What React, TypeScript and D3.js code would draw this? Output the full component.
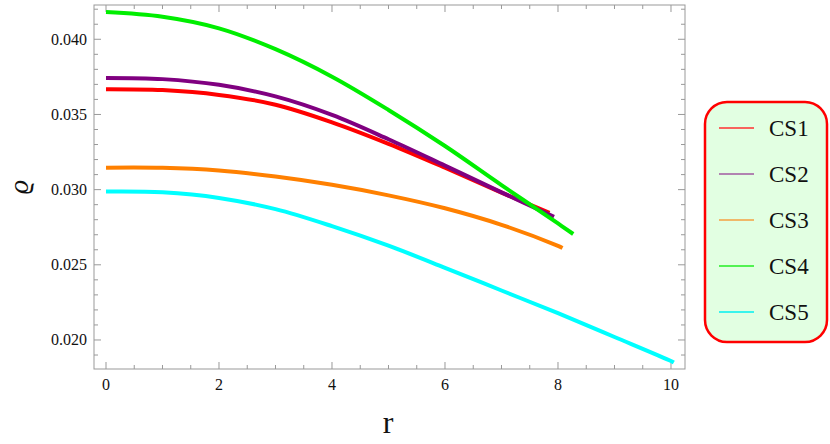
import React from "react";
import * as d3 from "d3";

const seriesNames = ["CS1", "CS2", "CS3", "CS4", "CS5"];
const seriesColors = ["#ff0000", "#800080", "#ff8000", "#00ee00", "#00ffff"];
const legendColors = ["#ff3030", "#a05aa0", "#f5a040", "#22ee22", "#00f0f0"];

const cs1R = [0, 1, 2, 3, 4, 5, 6, 7, 7.85];
const cs1V = [0.03668, 0.03662, 0.0363, 0.03565, 0.03448, 0.03305, 0.03146, 0.0298, 0.02845];

const cs2R = [0, 1, 2, 3, 4, 5, 6, 7, 7.93];
const cs2V = [0.03743, 0.03735, 0.03697, 0.0362, 0.03497, 0.03335, 0.0316, 0.02982, 0.0282];

const cs3R = [0, 1, 2, 3, 4, 5, 6, 7, 8, 8.08];
const cs3V = [0.03146, 0.03145, 0.03127, 0.03087, 0.03032, 0.02962, 0.02876, 0.02766, 0.02626, 0.02612];

const cs4R = [0, 1, 2, 3, 4, 5, 6, 7, 8, 8.27];
const cs4V = [0.04181, 0.0415, 0.04073, 0.03934, 0.03751, 0.0353, 0.0329, 0.0303, 0.02775, 0.02705];

const cs5R = [0, 1, 2, 3, 4, 5, 6, 7, 8, 9, 10, 10.05];
const cs5V = [0.02987, 0.02982, 0.02945, 0.0287, 0.02757, 0.02627, 0.0248, 0.02329, 0.02178, 0.0202, 0.0186, 0.0185];

const xTicks = [0, 2, 4, 6, 8, 10];
const yTicks = [0.02, 0.025, 0.03, 0.035, 0.04];

const seriesR = [cs1R, cs2R, cs3R, cs4R, cs5R];
const seriesV = [cs1V, cs2V, cs3V, cs4V, cs5V];

export default function App() {
  const W = 830, H = 444;
  const left = 94, right = 685, top = 5, bottom = 369;
  const x = d3.scaleLinear().domain([-0.2124, 10.248]).range([left, right]);
  const y = d3.scaleLinear().domain([0.01807, 0.04228]).range([bottom, top]);
  const line = d3.line<[number, number]>()
    .x((d) => x(d[0]))
    .y((d) => y(d[1]))
    .curve(d3.curveCatmullRom.alpha(0.5));

  const xMinor = d3.range(0, 10.01, 0.5).filter((v) => Math.abs(v / 2 - Math.round(v / 2)) > 1e-6);
  const yMinor = d3.range(0.019, 0.0421, 0.001).filter((v) => Math.abs(v / 0.005 - Math.round(v / 0.005)) > 1e-6);
  const frame = "#999";
  const font = "Liberation Serif, Times New Roman, DejaVu Serif, serif";
  const major = 7, minor = 4;

  const legX = 705, legY = 102, legW = 122, legH = 240;
  const legStep = 46;

  return (
    <svg width={W} height={H} style={{ position: "absolute", left: 0, top: 0, background: "#fff" }}>
      <rect x={0} y={0} width={W} height={H} fill="#fff" />
      <rect x={left} y={top} width={right - left} height={bottom - top} fill="none" stroke={frame} strokeWidth={1} />
      {xTicks.map((t) => (
        <g key={"xt" + t}>
          <line x1={x(t)} x2={x(t)} y1={bottom} y2={bottom - major} stroke={frame} />
          <line x1={x(t)} x2={x(t)} y1={top} y2={top + major} stroke={frame} />
          <text x={x(t)} y={390} textAnchor="middle" style={{ fontFamily: font }} fontSize={16} fill="#111">{t}</text>
        </g>
      ))}
      {xMinor.map((t) => (
        <g key={"xm" + t}>
          <line x1={x(t)} x2={x(t)} y1={bottom} y2={bottom - minor} stroke={frame} />
          <line x1={x(t)} x2={x(t)} y1={top} y2={top + minor} stroke={frame} />
        </g>
      ))}
      {yTicks.map((t) => (
        <g key={"yt" + t}>
          <line x1={left} x2={left + major} y1={y(t)} y2={y(t)} stroke={frame} />
          <line x1={right} x2={right - major} y1={y(t)} y2={y(t)} stroke={frame} />
          <text x={87} y={y(t) + 5.5} textAnchor="end" style={{ fontFamily: font }} fontSize={16} fill="#111">{d3.format(".3f")(t)}</text>
        </g>
      ))}
      {yMinor.map((t) => (
        <g key={"ym" + t.toFixed(4)}>
          <line x1={left} x2={left + minor} y1={y(t)} y2={y(t)} stroke={frame} />
          <line x1={right} x2={right - minor} y1={y(t)} y2={y(t)} stroke={frame} />
        </g>
      ))}
      {seriesNames.map((n, i) => {
        const pts = seriesR[i].map((r, j) => [r, seriesV[i][j]] as [number, number]);
        return <path key={n} d={line(pts) || ""} fill="none" stroke={seriesColors[i]} strokeWidth={4} />;
      })}
      <text x={388} y={433} textAnchor="middle" style={{ fontFamily: font }} fontSize={32} fill="#111">r</text>
      <text transform="translate(28,187) rotate(-90)" textAnchor="middle" style={{ fontFamily: font, fontStyle: "italic" }} fontSize={28} fill="#111">ϱ</text>
      <rect x={legX} y={legY} width={legW} height={legH} rx={22} ry={22} fill="#e2ffe2" stroke="#ff0000" strokeWidth={2.5} />
      {seriesNames.map((n, i) => (
        <g key={"lg" + n}>
          <line x1={719} x2={754} y1={128 + i * legStep} y2={128 + i * legStep} stroke={legendColors[i]} strokeWidth={1.5} />
          <text x={769} y={136 + i * legStep} style={{ fontFamily: font }} fontSize={23} fill="#111">{n}</text>
        </g>
      ))}
    </svg>
  );
}
